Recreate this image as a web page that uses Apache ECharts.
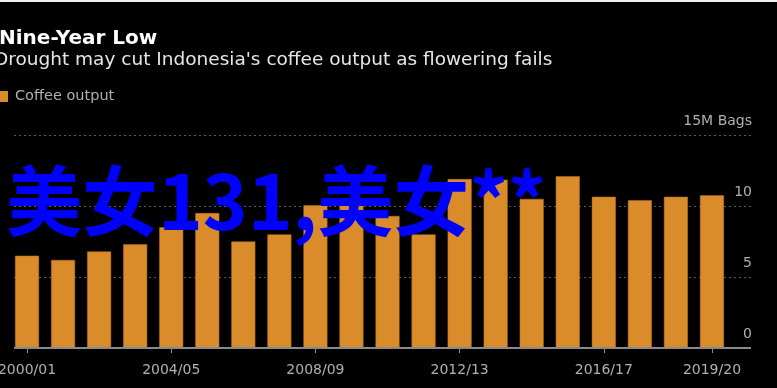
<!DOCTYPE html>
<html>
<head>
<meta charset="utf-8">
<style>html,body{margin:0;padding:0;background:#000;}#c{width:777px;height:388px;}</style>
<script src="https://cdn.jsdelivr.net/npm/echarts@6/dist/echarts.min.js"></script>
</head>
<body>
<div id="c"></div>
<script>
const categories = ['2000/01','2001/02','2002/03','2003/04','2004/05','2005/06','2006/07','2007/08','2008/09','2009/10','2010/11','2011/12','2012/13','2013/14','2014/15','2015/16','2016/17','2017/18','2018/19','2019/20'];
const coffeeOutput = [6.5, 6.2, 6.8, 7.3, 8.5, 9.5, 7.5, 8.0, 10.05, 10.5, 9.3, 8.0, 11.9, 11.85, 10.5, 12.1, 10.65, 10.4, 10.65, 10.75];
const labelIdx = [0, 4, 8, 12, 16, 19];
const titleText = 'Nine-Year Low';
const subtitleText = "Drought may cut Indonesia's coffee output as flowering fails";
const seriesName = 'Coffee output';
const unitLabel = '15M Bags';
const watermark = '美女131,美女**';

const FONT = '"DejaVu Sans", Verdana, sans-serif';
const chart = echarts.init(document.getElementById('c'), null, {renderer: 'canvas'});
chart.setOption({
  backgroundColor: '#000',
  animation: false,
  title: [
    {text: titleText, left: -1, top: 29, padding: 0,
     textStyle: {color: '#fff', fontSize: 20, fontWeight: 'bold', fontFamily: FONT}},
    {text: subtitleText, left: -6, top: 51, padding: 0,
     textStyle: {color: '#e6e6e6', fontSize: 18.5, fontWeight: 'normal', fontFamily: FONT}}
  ],
  legend: {
    data: [seriesName], left: 0, top: 89, padding: 0,
    itemWidth: 8, itemHeight: 11, itemGap: 5, icon: 'rect',
    itemStyle: {borderWidth: 0},
    textStyle: {color: '#b0b0b0', fontSize: 14.5, fontFamily: FONT, padding: [0,0,0,2]}
  },
  grid: [
    {left: 14, right: 26, top: 135, bottom: 40, outerBoundsMode: 'none', containLabel: false},
    {left: 9, right: 47, top: 135, bottom: 40, outerBoundsMode: 'none', containLabel: false}
  ],
  xAxis: [
    {type: 'value', gridIndex: 0, min: 0, max: 1, show: true,
     axisLine: {show: false}, axisTick: {show: false}, axisLabel: {show: false}, splitLine: {show: false}},
    {type: 'category', gridIndex: 1, data: categories,
     axisLine: {show: false},
     axisTick: {show: true, alignWithLabel: true, length: 5, interval: (i) => labelIdx.includes(i),
                lineStyle: {color: '#8a8a8a', width: 1}},
     axisLabel: {interval: (i) => labelIdx.includes(i), color: '#b0b0b0', fontSize: 14, fontFamily: FONT, margin: 15,
                 hideOverlap: false}}
  ],
  yAxis: [
    {type: 'value', gridIndex: 0, position: 'right', min: 0, max: 15, interval: 5,
     axisLine: {show: false}, axisTick: {show: false},
     axisLabel: {inside: true, margin: -1, verticalAlign: 'bottom', color: '#b0b0b0', fontSize: 14, fontFamily: FONT,
                 padding: [0,0,7,0], formatter: (v) => v === 15 ? unitLabel : String(v)},
     splitLine: {show: true, lineStyle: {color: '#5a5a5a', type: [2, 3], width: 1}}},
    {type: 'value', gridIndex: 1, min: 0, max: 15, interval: 5, show: false}
  ],
  series: [
    {name: seriesName, type: 'bar', xAxisIndex: 1, yAxisIndex: 1, data: coffeeOutput,
     barWidth: 24, itemStyle: {color: '#DA8B2A', borderColor: '#b8701f', borderWidth: 0.5}, z: 2},
    {type: 'line', xAxisIndex: 0, yAxisIndex: 0, data: [[0, 0], [1, 0]], symbol: 'none', silent: true,
     lineStyle: {color: '#8a8a8a', width: 2}, z: 3, legendHoverLink: false}
  ],
  graphic: [
    {type: 'rect', shape: {x: 0, y: 0, width: 777, height: 2}, style: {fill: '#f0f0f0'}, z: 10},
    {type: 'text', x: 6, y: 201, z: 100,
     style: {text: watermark, fill: '#0000FF', font: 'bold 76px "Noto Sans CJK SC"', verticalAlign: 'middle'}}
  ]
});
</script>
</body>
</html>
